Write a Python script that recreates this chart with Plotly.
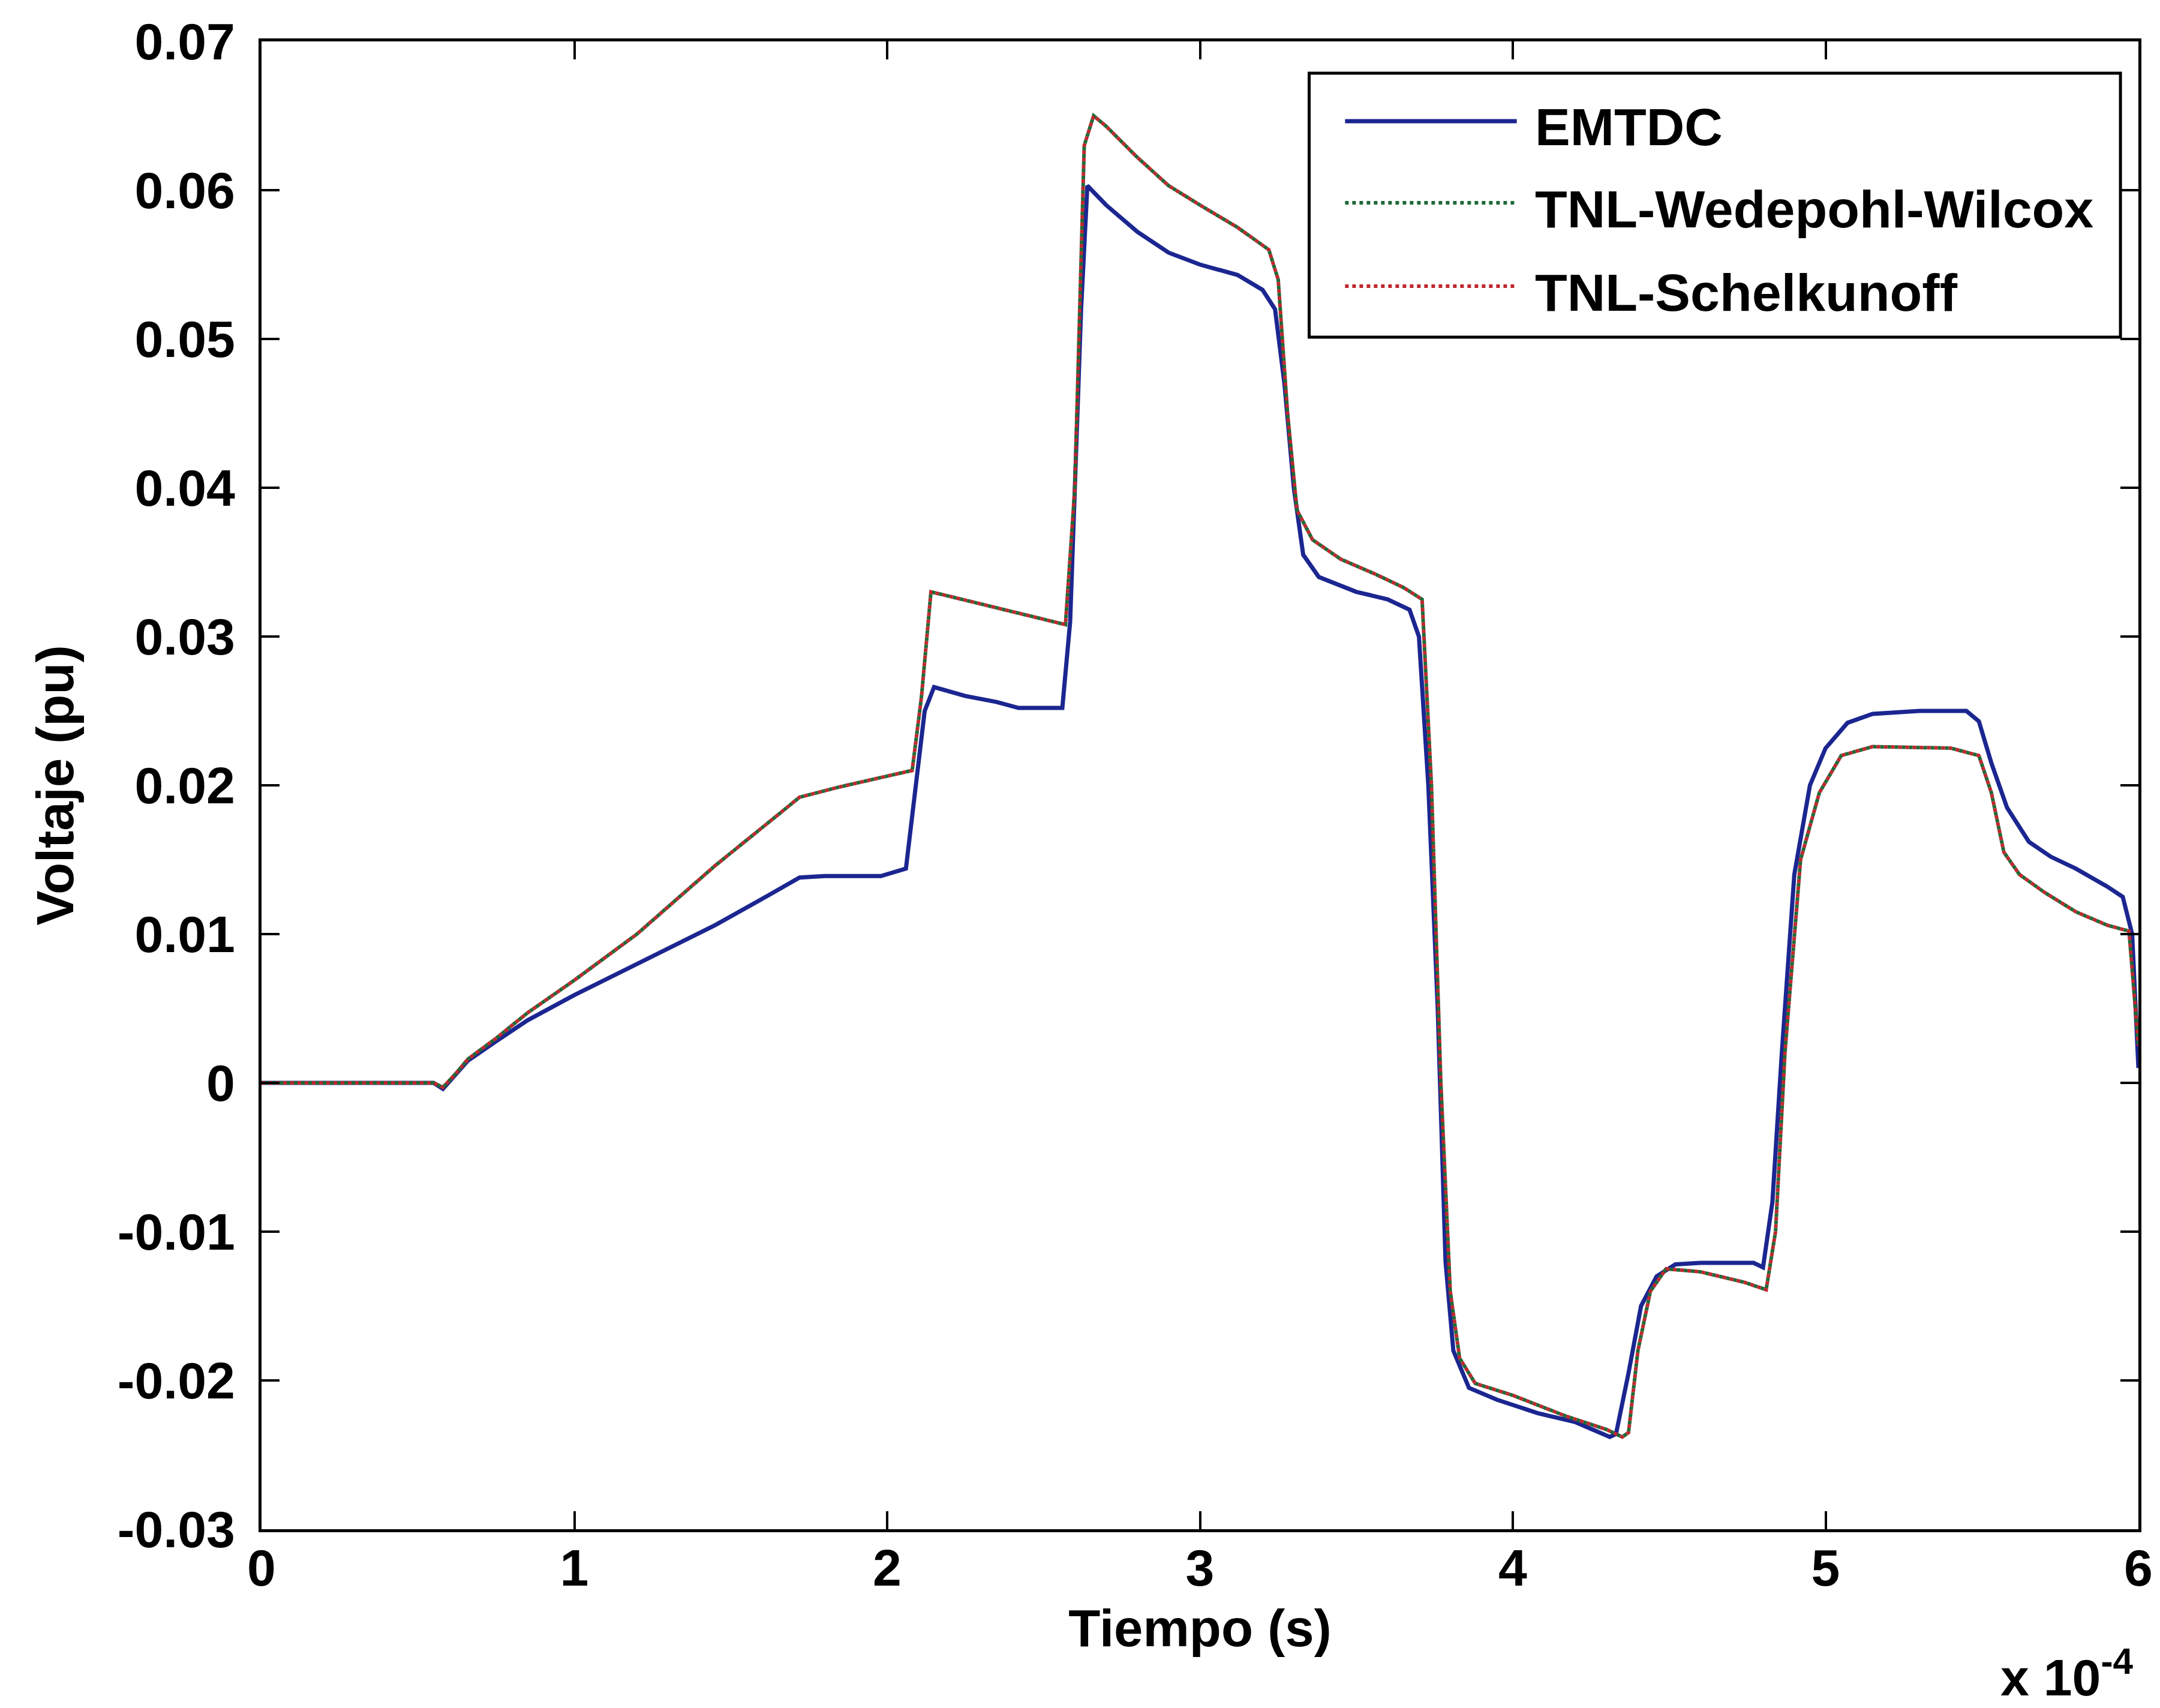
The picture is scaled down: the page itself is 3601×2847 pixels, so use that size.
import plotly.graph_objects as go

# ---------------- data (time in units of 1e-4 s, voltage in pu) ----------------
t_emtdc = [0, 0.55, 0.58, 0.62, 0.66, 0.75, 0.85, 1.0, 1.2, 1.45, 1.62, 1.72, 1.80, 1.98,
           2.06, 2.08, 2.12, 2.15, 2.25, 2.35, 2.42, 2.56, 2.585, 2.62, 2.64, 2.70, 2.80,
           2.90, 3.00, 3.12, 3.20, 3.24, 3.27, 3.30, 3.33, 3.38, 3.50, 3.60, 3.67, 3.70,
           3.73, 3.76, 3.785, 3.81, 3.86, 3.95, 4.08, 4.20, 4.31, 4.33, 4.37, 4.41, 4.46,
           4.52, 4.60, 4.77, 4.80, 4.83, 4.86, 4.90, 4.95, 5.00, 5.07, 5.15, 5.30, 5.45,
           5.49, 5.53, 5.58, 5.65, 5.72, 5.80, 5.90, 5.95, 5.98, 6.00]
v_emtdc = [0, 0, -0.0004, 0.0005, 0.0015, 0.0028, 0.0042, 0.0059, 0.0080, 0.0106, 0.0126,
           0.0138, 0.0139, 0.0139, 0.0144, 0.0180, 0.0250, 0.0266, 0.0260, 0.0256, 0.0252,
           0.0252, 0.0310, 0.0520, 0.0603, 0.0590, 0.0572, 0.0558, 0.0550, 0.0543, 0.0533,
           0.0520, 0.0470, 0.0400, 0.0355, 0.0340, 0.0330, 0.0325, 0.0318, 0.0300, 0.0200,
           0.0050, -0.0120, -0.0180, -0.0205, -0.0213, -0.0222, -0.0228, -0.0238, -0.0236,
           -0.0195, -0.0150, -0.0130, -0.0122, -0.0121, -0.0121, -0.0124, -0.0080, 0.0020,
           0.0140, 0.0200, 0.0225, 0.0242, 0.0248, 0.0250, 0.0250, 0.0243, 0.0215, 0.0185,
           0.0162, 0.0152, 0.0144, 0.0132, 0.0125, 0.0100, 0.0010]

t_tnl = [0, 0.55, 0.58, 0.62, 0.66, 0.75, 0.85, 1.0, 1.2, 1.45, 1.65, 1.72, 1.85, 1.98,
         2.08, 2.11, 2.14, 2.20, 2.30, 2.42, 2.57, 2.60, 2.63, 2.66, 2.70, 2.80, 2.90, 3.00,
         3.12, 3.22, 3.25, 3.28, 3.31, 3.36, 3.45, 3.56, 3.65, 3.71, 3.74, 3.77, 3.80, 3.83,
         3.88, 4.00, 4.17, 4.30, 4.35, 4.37, 4.40, 4.44, 4.49, 4.60, 4.74, 4.81, 4.84, 4.87,
         4.92, 4.98, 5.05, 5.15, 5.40, 5.49, 5.53, 5.57, 5.62, 5.70, 5.80, 5.90, 5.97, 6.00]
v_schelkunoff = [0, 0, -0.0003, 0.0006, 0.0016, 0.0030, 0.0047, 0.0069, 0.0100, 0.0146,
                 0.0180, 0.0192, 0.0199, 0.0205, 0.0210, 0.0260, 0.0330, 0.0327, 0.0322,
                 0.0316, 0.0308, 0.0400, 0.0630, 0.0650, 0.0643, 0.0622, 0.0603, 0.0590,
                 0.0575, 0.0560, 0.0540, 0.0450, 0.0385, 0.0365, 0.0352, 0.0342, 0.0333,
                 0.0325, 0.0200, 0.0000, -0.0140, -0.0185, -0.0202, -0.0210, -0.0224,
                 -0.0233, -0.0238, -0.0235, -0.0180, -0.0140, -0.0125, -0.0127, -0.0134,
                 -0.0139, -0.0100, 0.0020, 0.0150, 0.0195, 0.0220, 0.0226, 0.0225, 0.0220,
                 0.0195, 0.0155, 0.0140, 0.0128, 0.0115, 0.0106, 0.0102, 0.0025]
v_wedepohl = [0, 0, -0.0003, 0.0006, 0.0016, 0.0030, 0.0047, 0.0069, 0.0100, 0.0146,
              0.0180, 0.0192, 0.0199, 0.0205, 0.0210, 0.0260, 0.0330, 0.0327, 0.0322,
              0.0316, 0.0308, 0.0400, 0.0630, 0.0650, 0.0643, 0.0622, 0.0603, 0.0590,
              0.0575, 0.0560, 0.0540, 0.0450, 0.0385, 0.0365, 0.0352, 0.0342, 0.0333,
              0.0325, 0.0200, 0.0000, -0.0140, -0.0185, -0.0202, -0.0210, -0.0224,
              -0.0233, -0.0238, -0.0235, -0.0180, -0.0140, -0.0125, -0.0127, -0.0134,
              -0.0139, -0.0100, 0.0020, 0.0150, 0.0195, 0.0220, 0.0226, 0.0225, 0.0220,
              0.0195, 0.0155, 0.0140, 0.0128, 0.0115, 0.0106, 0.0102, 0.0025]

series_names = ["EMTDC", "TNL-Wedepohl-Wilcox", "TNL-Schelkunoff"]
x_tick_vals = [0, 1, 2, 3, 4, 5, 6]
x_tick_text = ["0", "1", "2", "3", "4", "5", "6"]
y_tick_vals = [-0.03, -0.02, -0.01, 0, 0.01, 0.02, 0.03, 0.04, 0.05, 0.06, 0.07]
y_tick_text = ["-0.03", "-0.02", "-0.01", "0", "0.01", "0.02", "0.03", "0.04", "0.05", "0.06", "0.07"]
x_label = "Tiempo (s)"
y_label = "Voltaje (pu)"
x_multiplier = "x 10<sup>-4</sup>"

SCALE = 1e-4
BLUE = "#1b2690"
GREEN = "#1d6a37"
RED = "#c0272d"
FONT = "Liberation Sans, Arial, Helvetica, sans-serif"

fig = go.Figure()
fig.add_trace(go.Scatter(x=[t * SCALE for t in t_emtdc], y=v_emtdc, mode="lines",
                         name=series_names[0], line=dict(color=BLUE, width=7)))
fig.add_trace(go.Scatter(x=[t * SCALE for t in t_tnl], y=v_wedepohl, mode="lines",
                         name=series_names[1],
                         line=dict(color=GREEN, width=6, dash="0px,6px,6px,0px")))
fig.add_trace(go.Scatter(x=[t * SCALE for t in t_tnl], y=v_schelkunoff, mode="lines",
                         name=series_names[2], line=dict(color=RED, width=6, dash="6px,6px")))

# plot area geometry (px)
W, H = 3601, 2847
L, R, T, B = 436, 28, 69, 298
pw, ph = W - L - R, H - T - B

def px(xp):
    return (xp - L) / pw

def py(yp):
    return (H - B - yp) / ph

axis_common = dict(showline=True, linecolor="black", linewidth=5, mirror="ticks",
                   ticks="inside", ticklen=30, tickwidth=4, tickcolor="black",
                   showgrid=False, zeroline=False,
                   tickfont=dict(family=FONT, size=86, color="black", weight="bold"))

fig.update_xaxes(range=[0, 6 * SCALE], tickvals=[v * SCALE for v in x_tick_vals],
                 ticktext=x_tick_text, ticklabelstandoff=-14,
                 title=dict(text=x_label,
                            font=dict(family=FONT, size=87, color="black", weight="bold"),
                            standoff=24),
                 **axis_common)
fig.update_yaxes(range=[-0.03, 0.07], tickvals=y_tick_vals, ticktext=y_tick_text,
                 ticklabelstandoff=22,
                 title=dict(text=y_label,
                            font=dict(family=FONT, size=87, color="black", weight="bold"),
                            standoff=46),
                 **axis_common)

# legend drawn as a MATLAB-style box
legend_rows_y = [202, 338, 477]
legend_styles = [dict(color=BLUE, width=7, dash="solid"),
                 dict(color=GREEN, width=6, dash="dot"),
                 dict(color=RED, width=6, dash="dot")]
shapes = [dict(type="rect", xref="paper", yref="paper",
               x0=px(2187), x1=px(3543), y0=py(562), y1=py(122),
               line=dict(color="black", width=5), fillcolor="white", layer="above")]
annotations = []
for name, yy, st in zip(series_names, legend_rows_y, legend_styles):
    shapes.append(dict(type="line", xref="paper", yref="paper",
                       x0=px(2247), x1=px(2534), y0=py(yy), y1=py(yy),
                       line=st, layer="above"))
    annotations.append(dict(xref="paper", yref="paper", x=px(2562), y=py(yy + 10),
                            xanchor="left", yanchor="middle", text=name, showarrow=False,
                            font=dict(family=FONT, size=88, color="black", weight="bold")))

annotations.append(dict(xref="paper", yref="paper", x=px(3566), y=py(2790),
                        xanchor="right", yanchor="middle", showarrow=False,
                        text=x_multiplier,
                        font=dict(family=FONT, size=86, color="black", weight="bold")))

fig.update_layout(width=W, height=H, autosize=False,
                  margin=dict(l=L, r=R, t=T, b=B, pad=0),
                  paper_bgcolor="white", plot_bgcolor="white",
                  showlegend=False, shapes=shapes, annotations=annotations,
                  font=dict(family=FONT, color="black"))

fig.write_html("out.html")
